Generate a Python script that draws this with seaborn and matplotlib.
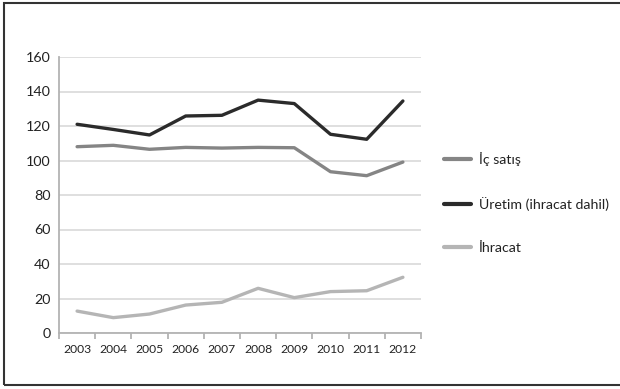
import matplotlib
matplotlib.use("Agg")
import matplotlib.pyplot as plt
from matplotlib.patches import Rectangle
import seaborn as sns
import pandas as pd

years = ["2003", "2004", "2005", "2006", "2007", "2008", "2009", "2010", "2011", "2012"]
ic_satis = [108, 108.8, 106.5, 107.6, 107.2, 107.6, 107.4, 93.5, 91.2, 99.1]
uretim = [121, 118, 114.8, 125.8, 126.2, 135, 133, 115.2, 112.3, 134.5]
ihracat = [12.7, 8.9, 11, 16.2, 17.8, 25.9, 20.5, 24, 24.5, 32.3]
series_names = ["İç satış", "Üretim (ihracat dahil)", "İhracat"]
colors = ["#858585", "#2b2b2b", "#b5b5b5"]
y_ticks = [0, 20, 40, 60, 80, 100, 120, 140, 160]

sns.set_theme(style="white")
plt.rcParams["font.family"] = ["Lato", "DejaVu Sans"]

df = pd.DataFrame({
    "Yıl": years * 3,
    "Değer": ic_satis + uretim + ihracat,
    "Seri": sum([[n] * len(years) for n in series_names], []),
})

fig = plt.figure(figsize=(6.2, 3.89), dpi=100)
ax = fig.add_axes([59 / 620, 1 - 333 / 389, (421 - 59) / 620, (333 - 57) / 389])

sns.lineplot(data=df, x="Yıl", y="Değer", hue="Seri", hue_order=series_names,
             palette=colors, linewidth=2.4, ax=ax, legend=True)

ax.set_xlim(-0.5, len(years) - 0.5)
ax.set_ylim(0, 160)
ax.set_yticks(y_ticks)
ax.yaxis.grid(True, color="#dcdcdc", linewidth=1.3)
ax.set_axisbelow(True)
ax.set_xlabel("")
ax.set_ylabel("")

for s in ["top", "right"]:
    ax.spines[s].set_visible(False)
for s in ["left", "bottom"]:
    ax.spines[s].set_color("#b3b3b3")
    ax.spines[s].set_linewidth(1.3)

ax.set_xticks(range(len(years)))
ax.set_xticklabels(years)
ax.set_xticks([i - 0.5 for i in range(len(years) + 1)], minor=True)
ax.tick_params(axis="x", which="major", length=0, pad=8, labelsize=8.7, colors="#222222")
ax.tick_params(axis="x", which="minor", length=4, width=1.3, color="#b3b3b3", direction="out")
ax.tick_params(axis="y", which="major", length=4, width=1.3, color="#b3b3b3", direction="out",
               labelsize=10.3, labelcolor="#222222", pad=2)
ax.tick_params(axis="x", bottom=True, which="both")

handles, labels = ax.get_legend_handles_labels()
ax.legend(handles, labels, loc="center left", bbox_to_anchor=(438 / 620, 1 - 203 / 389),
          bbox_transform=fig.transFigure, frameon=False, fontsize=10.2, handlelength=1.9,
          handletextpad=0.6, labelspacing=2.2, borderaxespad=0)
for line in ax.get_legend().get_lines():
    line.set_linewidth(3)
for t in ax.get_legend().get_texts():
    t.set_color("#222222")

fig.patches.append(Rectangle((4 / 620, 1 - 385 / 389), 1.2, (385 - 2.5) / 389,
                             transform=fig.transFigure, fill=False,
                             edgecolor="#333333", linewidth=1.5))

fig.savefig("out.png", dpi=100, facecolor="white")
